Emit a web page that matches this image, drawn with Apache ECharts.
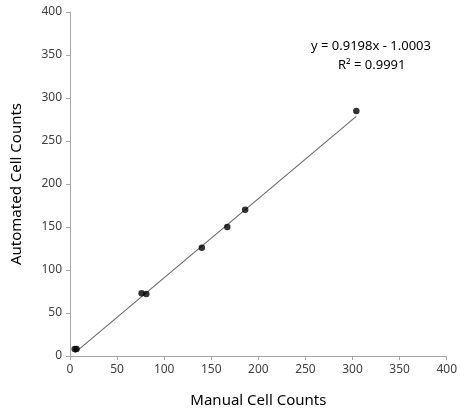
<!DOCTYPE html>
<html><head><meta charset="utf-8">
<script src="https://cdn.jsdelivr.net/npm/echarts@6/dist/echarts.min.js"></script>
<style>html,body{margin:0;padding:0;background:#fff}#c{width:460px;height:416px}</style>
</head><body><div id="c"></div>
<script>
var manual = [5, 7, 76, 81, 140, 167, 186, 304];
var automated = [8, 8, 73, 72, 126, 150, 170, 285];
var slope = 0.9198, intercept = -1.0003;
var xTicks = [0, 50, 100, 150, 200, 250, 300, 350, 400];
var yTicks = [0, 50, 100, 150, 200, 250, 300, 350, 400];

var pts = manual.map(function(x, i){ return [x, automated[i]]; });
var xmin = Math.min.apply(null, manual), xmax = Math.max.apply(null, manual);
var trend = [[xmin, slope*xmin+intercept], [xmax, slope*xmax+intercept]];
var font = '"Noto Sans", "Open Sans", sans-serif';
var chart = echarts.init(document.getElementById('c'));
chart.setOption({
  animation: false,
  grid: {left: 70, right: 13, top: 12, bottom: 60},
  xAxis: {type: 'value', min: xTicks[0], max: xTicks[xTicks.length-1], interval: 50,
    name: 'Manual Cell Counts', nameLocation: 'middle', nameGap: 37,
    nameTextStyle: {fontSize: 15, color: '#000', fontFamily: font},
    axisLine: {lineStyle: {color: '#a6a6a6'}}, axisTick: {show: true, length: 4, lineStyle: {color: '#a6a6a6'}},
    axisLabel: {fontSize: 12, color: '#404040', fontFamily: font, margin: 8},
    splitLine: {show: false}},
  yAxis: {type: 'value', min: yTicks[0], max: yTicks[yTicks.length-1], interval: 50,
    name: 'Automated Cell Counts', nameLocation: 'middle', nameGap: 46,
    nameTextStyle: {fontSize: 15, color: '#000', fontFamily: font},
    axisLine: {show: true, lineStyle: {color: '#a6a6a6'}}, axisTick: {show: true, length: 4, lineStyle: {color: '#a6a6a6'}},
    axisLabel: {fontSize: 12, color: '#404040', fontFamily: font, margin: 8},
    splitLine: {show: false}},
  graphic: [
    {type: 'text', left: 311, top: 40, style: {text: 'y = 0.9198x - 1.0003', fill: '#000', font: '13px ' + font}},
    {type: 'text', left: 338, top: 59, style: {text: 'R² = 0.9991', fill: '#000', font: '13px ' + font}}
  ],
  series: [
    {type: 'line', data: trend, symbol: 'none', lineStyle: {color: '#6e6e6e', width: 1.2}, z: 1},
    {type: 'scatter', data: pts, symbolSize: 6.5, itemStyle: {color: '#000'}, z: 2}
  ]
});
</script></body></html>
